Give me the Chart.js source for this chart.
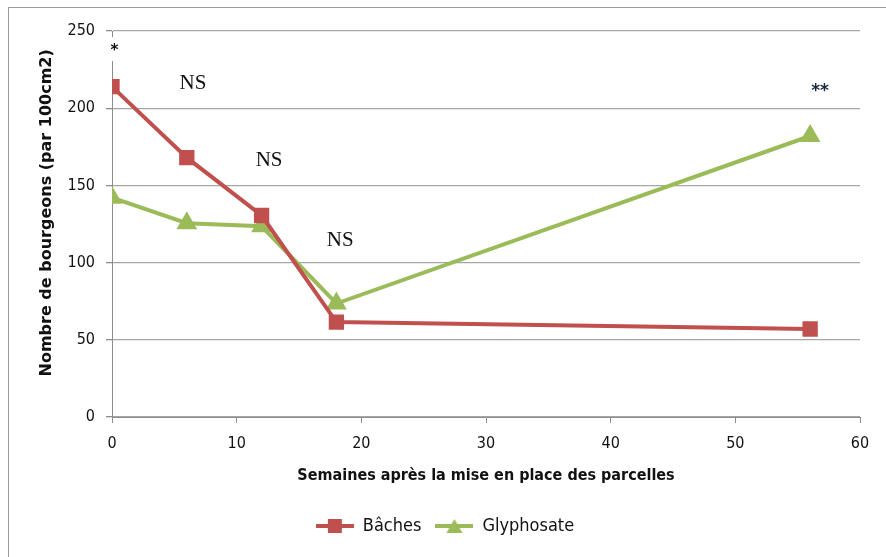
<!DOCTYPE html>
<html>
<head>
<meta charset="utf-8">
<script src="https://cdn.jsdelivr.net/npm/chart.js@4"></script>
<style>
  html, body { margin: 0; padding: 0; background: #fff; }
  #wrap { position: relative; width: 886px; height: 557px; }
  #frame { position: absolute; left: 8px; top: 7px; right: 0; bottom: 0;
           border-left: 1px solid #9a9a9a; border-top: 1px solid #9a9a9a; }
</style>
</head>
<body>
<div id="wrap">
  <div id="frame"></div>
  <canvas id="myChart" width="886" height="557"></canvas>
</div>
<script>
// weeks after setting up the plots
var weeks = [0, 6, 12, 18, 56];
var baches = [214, 168, 130.5, 61.5, 57];
var glyphosate = [142, 125.5, 123.5, 73.5, 182];
var yTicks = [0, 50, 100, 150, 200, 250];
var xTicks = [0, 10, 20, 30, 40, 50, 60];

// significance marks written over the chart
var notes = [
    { text: '*',  x: 0.2,  y: 237, font: 'bold 15px "DejaVu Sans"', box: true },
    { text: 'NS', x: 6.5,  y: 216, font: '21px "Liberation Serif"' },
    { text: 'NS', x: 12.6, y: 166, font: '21px "Liberation Serif"' },
    { text: 'NS', x: 18.3, y: 114, font: '21px "Liberation Serif"' },
    { text: '**', x: 56.8, y: 211, font: 'bold 17px "DejaVu Sans"' }
];

var red = '#C0504D';
var green = '#9BBB59';
var narrow = '"Liberation Sans Narrow", "DejaVu Sans Condensed", sans-serif';
var tickFont = { family: narrow, size: 16 };

function legendIcon(color, style) {
    var c = document.createElement('canvas');
    c.width = 38; c.height = 16;
    var g = c.getContext('2d');
    g.strokeStyle = color;
    g.lineWidth = 4;
    g.beginPath(); g.moveTo(0, 8); g.lineTo(38, 8); g.stroke();
    g.fillStyle = color;
    if (style === 'rect') {
        g.fillRect(12, 1, 14, 14);
    } else {
        g.beginPath(); g.moveTo(19, 1); g.lineTo(27, 15); g.lineTo(11, 15); g.closePath(); g.fill();
    }
    return c;
}

var notesPlugin = {
    id: 'notes',
    afterDatasetsDraw: function(chart) {
        var ctx = chart.ctx;
        var xs = chart.scales.x, ys = chart.scales.y;
        ctx.save();
        notes.forEach(function(n) {
            var px = xs.getPixelForValue(n.x);
            var py = ys.getPixelForValue(n.y);
            if (n.box) {
                ctx.fillStyle = '#fff';
                ctx.fillRect(px - 10, py - 14, 20, 24);
            }
            ctx.font = n.font;
            ctx.fillStyle = n.text === '**' ? '#1a2a44' : '#111';
            ctx.textAlign = 'center';
            ctx.textBaseline = 'middle';
            ctx.fillText(n.text, px, py);
        });
        ctx.restore();
    }
};

var ctx = document.getElementById('myChart').getContext('2d');
var chart = new Chart(ctx, {
    type: 'line',
    data: {
        datasets: [{
            label: 'Bâches',
            data: weeks.map(function(w, i) { return { x: w, y: baches[i] }; }),
            borderColor: red,
            backgroundColor: red,
            borderWidth: 4,
            pointStyle: 'rect',
            pointRadius: 8,
            pointHoverRadius: 8,
            tension: 0
        }, {
            label: 'Glyphosate',
            data: weeks.map(function(w, i) { return { x: w, y: glyphosate[i] }; }),
            borderColor: green,
            backgroundColor: green,
            borderWidth: 4,
            pointStyle: 'triangle',
            pointRadius: 8,
            pointHoverRadius: 8,
            tension: 0
        }]
    },
    options: {
        responsive: false,
        animation: false,
        layout: { padding: { left: 30, right: 26, top: 31, bottom: 12 } },
        scales: {
            x: {
                type: 'linear',
                min: 0, max: 60,
                afterBuildTicks: function(s) { s.ticks = xTicks.map(function(v) { return { value: v }; }); },
                afterFit: function(s) { s.height = 86; },
                grid: { display: true, drawOnChartArea: false, drawTicks: true, tickLength: 6, tickColor: '#8c8c8c' },
                border: { display: true, color: '#8c8c8c', width: 1 },
                ticks: { color: '#111', font: tickFont, padding: 11, maxRotation: 0 },
                title: {
                    display: true,
                    text: 'Semaines après la mise en place des parcelles',
                    color: '#111',
                    font: { family: narrow, size: 16, weight: 'bold' },
                    padding: { top: 0, bottom: 18 }
                }
            },
            y: {
                min: 0, max: 250,
                afterBuildTicks: function(s) { s.ticks = yTicks.map(function(v) { return { value: v }; }); },
                afterFit: function(s) { s.width = 82; },
                grid: { color: '#a6a6a6', lineWidth: 1.3, tickLength: 6, tickColor: '#8c8c8c' },
                border: { display: true, color: '#8c8c8c', width: 1 },
                ticks: { color: '#111', font: tickFont, padding: 11 },
                title: {
                    display: true,
                    text: '    Nombre de bourgeons (par 100cm2)',
                    color: '#111',
                    font: { family: '"DejaVu Sans", sans-serif', size: 16, weight: 'bold' },
                    padding: { top: 7, bottom: 0 }
                }
            }
        },
        plugins: {
            tooltip: { enabled: false },
            legend: {
                position: 'bottom',
                labels: {
                    usePointStyle: true,
                    pointStyleWidth: 38,
                    color: '#111',
                    font: { family: narrow, size: 18 },
                    padding: 14,
                    generateLabels: function(chart) {
                        return chart.data.datasets.map(function(ds, i) {
                            return {
                                text: ds.label,
                                datasetIndex: i,
                                pointStyle: legendIcon(ds.borderColor, ds.pointStyle),
                                fontColor: '#111',
                                lineWidth: 0,
                                strokeStyle: ds.borderColor,
                                fillStyle: ds.borderColor
                            };
                        });
                    }
                }
            }
        }
    },
    plugins: [notesPlugin]
});
</script>
</body>
</html>
